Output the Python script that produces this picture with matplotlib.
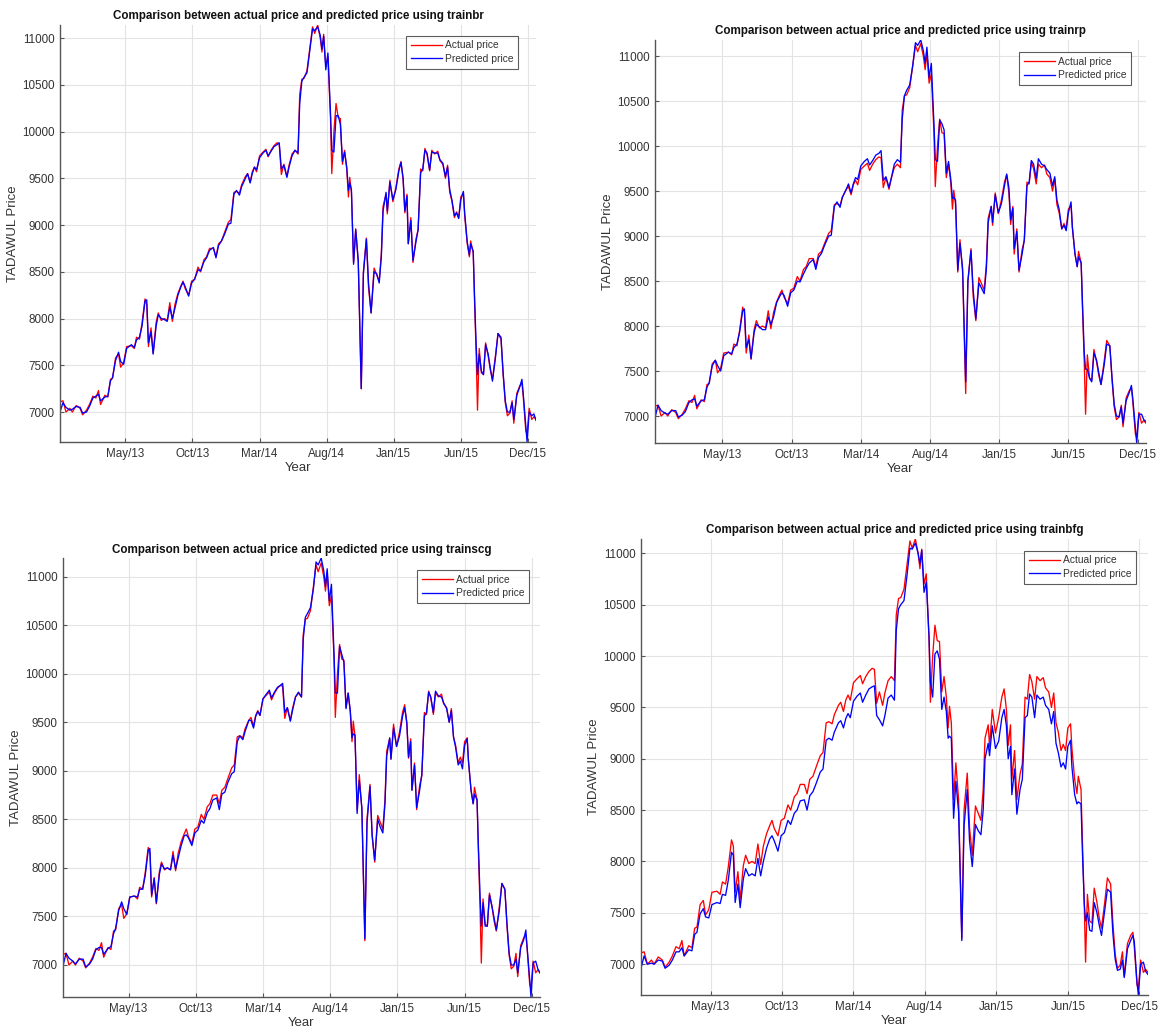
import numpy as np
import matplotlib
matplotlib.use('Agg')
import matplotlib.pyplot as plt

plt.rcParams['font.family'] = ['Liberation Sans', 'DejaVu Sans']

# days counted from the left edge of the x axis (early Dec 2012)
days = [0, 7, 14, 23, 29, 38, 47, 53, 62, 69,
        77, 84, 90, 95, 105, 112, 118, 123, 130, 137,
        142, 149, 156, 167, 174, 179, 186, 192, 199, 203,
        207, 213, 218, 225, 230, 237, 244, 251, 257, 263,
        269, 276, 283, 288, 293, 301, 308, 315, 323, 329,
        337, 343, 350, 359, 365, 371, 378, 385, 394, 400,
        407, 413, 420, 425, 434, 439, 445, 450, 455, 460,
        467, 475, 482, 487, 494, 501, 508, 513, 518, 524,
        531, 536, 543, 550, 557, 561, 566, 571, 578, 585,
        591, 596, 603, 609, 613, 617, 622, 627, 633, 636,
        641, 646, 651, 656, 661, 666, 671, 675, 678, 682,
        687, 692, 698, 705, 710, 717, 722, 728, 735, 741,
        747, 752, 756, 763, 766, 772, 779, 786, 793, 798,
        803, 807, 812, 815, 821, 826, 833, 838, 844, 849,
        854, 859, 865, 870, 877, 884, 889, 896, 902, 907,
        912, 917, 923, 928, 933, 938, 944, 947, 953, 958,
        961, 967, 970, 974, 977, 981, 986, 991, 996, 1002,
        1007, 1012, 1019, 1025, 1032, 1037, 1042, 1047, 1053, 1058,
        1062, 1069, 1076, 1081, 1084, 1090, 1093, 1098, 1104, 1109,
        1114]

actual = [7110, 7120, 7000, 7040, 7000, 7070, 7040, 6970, 7020, 7080,
          7170, 7150, 7230, 7080, 7180, 7160, 7350, 7360, 7580, 7620,
          7480, 7530, 7700, 7710, 7680, 7800, 7780, 7950, 8210, 8150,
          7700, 7900, 7630, 7960, 8060, 7980, 8000, 7980, 8170, 7970,
          8150, 8270, 8350, 8400, 8320, 8250, 8400, 8420, 8550, 8500,
          8630, 8660, 8750, 8750, 8660, 8800, 8830, 8920, 9030, 9060,
          9350, 9360, 9340, 9430, 9520, 9550, 9460, 9570, 9620, 9570,
          9740, 9780, 9810, 9730, 9800, 9850, 9880, 9870, 9540, 9650,
          9520, 9640, 9760, 9800, 9760, 10400, 10560, 10570, 10650, 10900,
          11120, 11050, 11140, 11000, 10850, 11040, 10700, 10800, 10150, 9550,
          10000, 10300, 10150, 10140, 9650, 9800, 9600, 9300, 9510, 9350,
          8600, 8960, 8600, 7250, 8500, 8860, 8330, 8060, 8540, 8470,
          8400, 8700, 9200, 9330, 9120, 9480, 9250, 9400, 9600, 9680,
          9480, 9130, 9330, 8800, 9080, 8600, 8850, 8950, 9600, 9580,
          9820, 9750, 9580, 9800, 9760, 9790, 9690, 9650, 9500, 9640,
          9350, 9260, 9080, 9140, 9080, 9300, 9340, 9100, 8800, 8660,
          8830, 8700, 8200, 7600, 7020, 7680, 7420, 7400, 7740, 7600,
          7450, 7350, 7600, 7840, 7780, 7400, 7100, 6960, 6990, 7120,
          6880, 7200, 7280, 7310, 7170, 6800, 6760, 7040, 6920, 6950,
          6920]

pred_trainbr = [7000, 7100, 7050, 7020, 7030, 7060, 7050, 6990, 7000, 7060,
                7150, 7170, 7190, 7120, 7160, 7170, 7330, 7370, 7550, 7640,
                7540, 7510, 7680, 7720, 7690, 7770, 7800, 7920, 8190, 8200,
                7740, 7860, 7620, 7920, 8040, 8000, 7990, 7970, 8120, 8000,
                8110, 8250, 8340, 8390, 8340, 8240, 8380, 8420, 8520, 8510,
                8610, 8650, 8730, 8760, 8650, 8780, 8830, 8900, 9010, 9020,
                9330, 9370, 9320, 9410, 9500, 9550, 9450, 9550, 9620, 9590,
                9720, 9770, 9800, 9740, 9790, 9840, 9860, 9880, 9600, 9640,
                9510, 9620, 9740, 9800, 9770, 10300, 10540, 10580, 10630, 10880,
                11100, 11080, 11120, 11030, 10880, 11020, 10660, 10840, 10200, 9800,
                9780, 10170, 10170, 10080, 9680, 9780, 9620, 9370, 9450, 9380,
                8580, 8950, 8620, 7250, 8480, 8850, 8380, 8060, 8500, 8480,
                8380, 8660, 9150, 9350, 9150, 9460, 9270, 9380, 9580, 9670,
                9500, 9150, 9310, 8800, 9050, 8620, 8820, 8950, 9560, 9600,
                9800, 9770, 9590, 9780, 9770, 9770, 9700, 9660, 9520, 9620,
                9380, 9270, 9100, 9130, 9070, 9270, 9360, 9130, 8820, 8680,
                8800, 8720, 8250, 7700, 7400, 7620, 7440, 7400, 7720, 7620,
                7470, 7330, 7580, 7840, 7800, 7420, 7120, 7000, 7000, 7100,
                6920, 7180, 7270, 7350, 7200, 6850, 6680, 7000, 6960, 6980,
                6910]

pred_trainrp = [6980, 7120, 7060, 7030, 7020, 7060, 7060, 6990, 7010, 7050,
                7150, 7180, 7190, 7110, 7170, 7180, 7320, 7370, 7560, 7620,
                7560, 7500, 7670, 7710, 7690, 7760, 7800, 7930, 8170, 8190,
                7760, 7850, 7640, 7930, 8020, 7990, 7960, 7960, 8100, 8020,
                8100, 8260, 8330, 8370, 8340, 8220, 8370, 8400, 8500, 8490,
                8580, 8640, 8700, 8740, 8630, 8760, 8810, 8900, 9000, 9010,
                9330, 9380, 9320, 9430, 9520, 9580, 9480, 9580, 9650, 9630,
                9780, 9830, 9860, 9790, 9840, 9900, 9920, 9950, 9620, 9660,
                9540, 9640, 9800, 9850, 9820, 10300, 10560, 10620, 10680, 10900,
                11150, 11120, 11180, 11060, 10920, 11100, 10760, 10920, 10250, 9850,
                9830, 10290, 10250, 10180, 9700, 9830, 9640, 9420, 9430, 9400,
                8620, 8920, 8640, 7380, 8500, 8840, 8400, 8080, 8480, 8420,
                8360, 8640, 9150, 9330, 9150, 9460, 9260, 9360, 9560, 9690,
                9540, 9180, 9310, 8860, 9050, 8620, 8800, 8960, 9560, 9600,
                9840, 9800, 9640, 9860, 9800, 9780, 9740, 9700, 9560, 9660,
                9400, 9300, 9080, 9120, 9060, 9260, 9380, 9100, 8800, 8660,
                8770, 8700, 8250, 7700, 7520, 7520, 7420, 7380, 7700, 7620,
                7480, 7350, 7560, 7800, 7780, 7430, 7130, 7000, 6990, 7100,
                6920, 7170, 7260, 7340, 7200, 6860, 6700, 7020, 7020, 6960,
                6940]

pred_trainscg = [6990, 7120, 7070, 7040, 7010, 7060, 7060, 6980, 7010, 7060,
                 7160, 7180, 7180, 7110, 7170, 7190, 7320, 7380, 7560, 7650,
                 7580, 7520, 7700, 7710, 7700, 7780, 7780, 7920, 8180, 8200,
                 7720, 7890, 7640, 7930, 8040, 7990, 8000, 7980, 8130, 7990,
                 8100, 8230, 8330, 8340, 8310, 8230, 8360, 8390, 8490, 8460,
                 8570, 8610, 8700, 8720, 8600, 8760, 8780, 8880, 8970, 8990,
                 9300, 9360, 9320, 9400, 9520, 9520, 9440, 9560, 9610, 9570,
                 9740, 9790, 9830, 9750, 9810, 9860, 9880, 9900, 9600, 9650,
                 9510, 9620, 9760, 9810, 9760, 10350, 10580, 10620, 10680, 10880,
                 11150, 11120, 11190, 11060, 10900, 11080, 10750, 10920, 10200, 9800,
                 9800, 10280, 10200, 10120, 9640, 9800, 9620, 9340, 9380, 9370,
                 8560, 8900, 8620, 7270, 8460, 8840, 8340, 8080, 8500, 8420,
                 8360, 8660, 9150, 9340, 9120, 9440, 9250, 9360, 9560, 9650,
                 9500, 9140, 9300, 8800, 9060, 8620, 8800, 8960, 9560, 9600,
                 9810, 9760, 9600, 9820, 9770, 9760, 9700, 9640, 9500, 9620,
                 9350, 9240, 9060, 9100, 9020, 9260, 9330, 9100, 8800, 8660,
                 8760, 8700, 8250, 7720, 7400, 7640, 7400, 7400, 7720, 7600,
                 7480, 7360, 7560, 7840, 7780, 7420, 7120, 7000, 7000, 7060,
                 6920, 7180, 7260, 7360, 7180, 6850, 6670, 7020, 7040, 6960,
                 6920]

pred_trainbfg = [6960, 7080, 7000, 7010, 7000, 7040, 7030, 6960, 6990, 7040,
                 7120, 7120, 7160, 7080, 7140, 7130, 7290, 7310, 7490, 7540,
                 7460, 7450, 7580, 7600, 7590, 7680, 7670, 7820, 8090, 8060,
                 7600, 7780, 7550, 7830, 7930, 7860, 7880, 7860, 8030, 7860,
                 8000, 8130, 8220, 8250, 8200, 8100, 8250, 8280, 8400, 8360,
                 8470, 8500, 8590, 8600, 8500, 8640, 8680, 8760, 8870, 8900,
                 9180, 9200, 9180, 9260, 9350, 9370, 9300, 9390, 9440, 9400,
                 9560, 9610, 9640, 9550, 9620, 9680, 9700, 9710, 9420, 9380,
                 9320, 9420, 9590, 9620, 9570, 10250, 10460, 10500, 10540, 10800,
                 11050, 11040, 11100, 11000, 10900, 11030, 10620, 10720, 10200, 9750,
                 9600, 10020, 10050, 9970, 9480, 9600, 9460, 9200, 9220, 9200,
                 8420, 8780, 8480, 7230, 8350, 8700, 8200, 7950, 8360, 8300,
                 8260, 8500, 9000, 9150, 9030, 9320, 9100, 9170, 9400, 9480,
                 9320, 9000, 9120, 8650, 8900, 8460, 8700, 8800, 9400, 9420,
                 9630, 9600, 9400, 9620, 9580, 9600, 9520, 9480, 9340, 9460,
                 9150, 9060, 8920, 8960, 8900, 9120, 9180, 8920, 8650, 8560,
                 8580, 8560, 8100, 7600, 7420, 7500, 7330, 7320, 7600, 7500,
                 7380, 7280, 7520, 7730, 7700, 7300, 7050, 6940, 6950, 7040,
                 6870, 7150, 7230, 7280, 7220, 6820, 6700, 7000, 7020, 6930,
                 6900]

tick_days = [153, 310, 467, 624, 781, 938, 1095]
tick_labels = ['May/13', 'Oct/13', 'Mar/14', 'Aug/14', 'Jan/15', 'Jun/15', 'Dec/15']
y_ticks = [7000, 7500, 8000, 8500, 9000, 9500, 10000, 10500, 11000]

methods = ['trainbr', 'trainrp', 'trainscg', 'trainbfg']
predictions = [pred_trainbr, pred_trainrp, pred_trainscg, pred_trainbfg]

# axes boxes (left, bottom, width, height) in figure fractions, the four
# panels were separate screenshots so they are not aligned exactly
boxes = [[0.0518, 0.5734, 0.4111, 0.4025],
         [0.5656, 0.5724, 0.4240, 0.3890],
         [0.0544, 0.0376, 0.4119, 0.4237],
         [0.5535, 0.0396, 0.4378, 0.4402]]
legend_anchor = [(0.962, 0.974), (0.969, 0.970), (0.977, 0.973), (0.976, 0.974)]

txt = '#333333'
fig = plt.figure(figsize=(11.58, 10.36), dpi=100)

for k in range(4):
    ax = fig.add_axes(boxes[k])
    ax.plot(days, actual, color='red', lw=0.95, label='Actual price')
    ax.plot(days, predictions[k], color='blue', lw=0.95, label='Predicted price')

    lo = min(min(actual), min(predictions[k]))
    hi = max(max(actual), max(predictions[k]))
    ax.set_xlim(days[0], days[-1])
    ax.set_ylim(lo, hi)
    ax.set_xticks(tick_days)
    ax.set_xticklabels(tick_labels)
    ax.set_yticks(y_ticks)

    ax.grid(True, color='#e3e3e3', lw=0.8)
    ax.set_axisbelow(True)
    for s in ['top', 'right']:
        ax.spines[s].set_visible(False)
    for s in ['left', 'bottom']:
        ax.spines[s].set_color('#555555')
        ax.spines[s].set_linewidth(1.0)
    ax.tick_params(direction='in', length=3, width=0.8, color='#555555',
                   labelsize=8.4, labelcolor=txt, pad=4)

    ax.set_title('Comparison between actual price and predicted price using ' + methods[k],
                 fontsize=8.4, fontweight='bold', color='#111111', pad=4)
    ax.set_xlabel('Year', fontsize=9.5, color=txt, labelpad=2)
    ax.set_ylabel('TADAWUL Price', fontsize=9.5, color=txt, labelpad=2)

    leg = ax.legend(loc='upper right', bbox_to_anchor=legend_anchor[k], fontsize=7.4,
                    frameon=True, fancybox=False, handlelength=3.0,
                    borderpad=0.45, labelspacing=0.35, handletextpad=0.3,
                    borderaxespad=0)
    leg.get_frame().set_edgecolor('#333333')
    leg.get_frame().set_linewidth(0.8)
    for t in leg.get_texts():
        t.set_color(txt)

plt.savefig('out.png', dpi=100)
